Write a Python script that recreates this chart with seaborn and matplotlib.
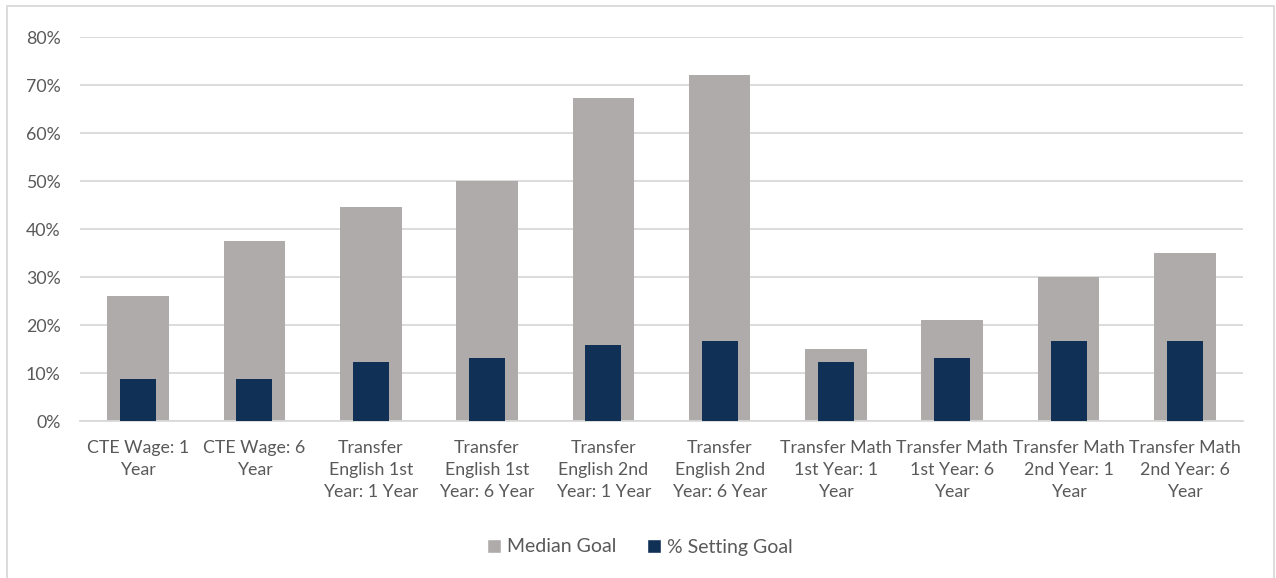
import matplotlib
matplotlib.use("Agg")
import matplotlib.pyplot as plt
import seaborn as sns
import pandas as pd
from matplotlib.patches import Rectangle, Patch
from matplotlib.ticker import PercentFormatter

categories = [
    "CTE Wage: 1\nYear",
    "CTE Wage: 6\nYear",
    "Transfer\nEnglish 1st\nYear: 1 Year",
    "Transfer\nEnglish 1st\nYear: 6 Year",
    "Transfer\nEnglish 2nd\nYear: 1 Year",
    "Transfer\nEnglish 2nd\nYear: 6 Year",
    "Transfer Math\n1st Year: 1\nYear",
    "Transfer Math\n1st Year: 6\nYear",
    "Transfer Math\n2nd Year: 1\nYear",
    "Transfer Math\n2nd Year: 6\nYear",
]
median_goal = [0.26, 0.375, 0.445, 0.50, 0.673, 0.72, 0.15, 0.21, 0.30, 0.35]
pct_setting = [0.0875, 0.0875, 0.123, 0.131, 0.158, 0.167, 0.123, 0.131, 0.167, 0.167]
y_ticks = [0, 0.1, 0.2, 0.3, 0.4, 0.5, 0.6, 0.7, 0.8]

GRAY = "#AFABAB"
NAVY = "#113056"
TXT = "#595959"
GRID = "#D9D9D9"

sns.set_theme(style="white")
plt.rcParams["font.family"] = ["Lato", "DejaVu Sans"]

df = pd.DataFrame({"cat": categories, "median": median_goal, "pct": pct_setting})

fig = plt.figure(figsize=(12.76, 5.78), dpi=100)
ax = fig.add_axes([80/1276, 1-421/578, (1243-80)/1276, (421-37)/578])

sns.barplot(data=df, x="cat", y="median", color=GRAY, width=0.53, saturation=1,
            linewidth=0, ax=ax, zorder=2)
sns.barplot(data=df, x="cat", y="pct", color=NAVY, width=0.31, saturation=1,
            linewidth=0, ax=ax, zorder=3)

ax.set_ylim(0, 0.8)
ax.set_xlim(-0.5, len(categories) - 0.5)
ax.set_yticks(y_ticks)
ax.yaxis.set_major_formatter(PercentFormatter(1.0, decimals=0))
ax.set_xlabel("")
ax.set_ylabel("")
ax.grid(axis="y", color=GRID, linewidth=1.3, zorder=0)
ax.set_axisbelow(True)
for s in ["top", "right", "left"]:
    ax.spines[s].set_visible(False)
ax.spines["bottom"].set_color(GRID)
ax.spines["bottom"].set_linewidth(1.3)
ax.tick_params(axis="both", length=0, colors=TXT, labelsize=12.8)
ax.tick_params(axis="y", pad=14)
ax.tick_params(axis="x", pad=14)
for lab in ax.get_xticklabels():
    lab.set_linespacing(1.45)

handles = [Patch(facecolor=GRAY, label="Median Goal"), Patch(facecolor=NAVY, label="% Setting Goal")]
fig.legend(handles=handles, loc="center", bbox_to_anchor=(640/1276, 1-547/578), ncol=2,
           frameon=False, fontsize=14, labelcolor=TXT, handlelength=0.7, handleheight=0.7,
           handletextpad=0.3, columnspacing=1.6)

fig.patches.append(Rectangle((7/1276, -0.05), (1274-7)/1276, 1.05-6/578, transform=fig.transFigure,
                             fill=False, edgecolor="#D9D9D9", linewidth=1.3))

fig.savefig("out.png", dpi=100)
